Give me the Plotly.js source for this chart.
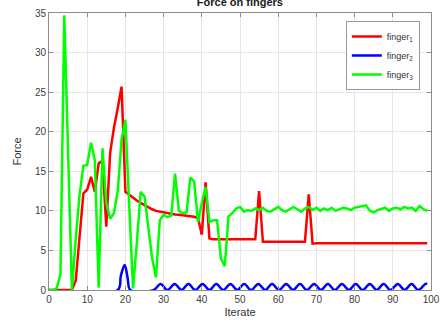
<!DOCTYPE html>
<html>
<head>
<meta charset="utf-8">
<script src="https://cdn.plot.ly/plotly-3.0.1.min.js"></script>
<style>html,body{margin:0;padding:0;background:#fff;}#chart{width:441px;height:323px;}</style>
</head>
<body>
<div id="chart"></div>
<script>
// Iterates 0..99
const iterates = [];
for (let i = 0; i <= 99; i++) iterates.push(i);

const finger1 = [
  0, 0, 0, 0, 0, 0, 0, 1.2, 6.8, 12.2,
  12.7, 14.3, 12.4, 16.0, 16.3, 8.0, 17.3, 20.5, 23.0, 25.7,
  12.4, 12.0, 11.6, 11.3, 11.0, 10.7, 10.5, 10.2, 10.0, 9.9,
  9.8, 9.7, 9.6, 9.55, 9.5, 9.45, 9.4, 9.3, 9.25, 9.1,
  7.0, 13.6, 6.5, 6.4, 6.4, 6.4, 6.4, 6.4, 6.4, 6.4,
  6.4, 6.4, 6.4, 6.4, 6.4, 12.5, 6.1, 6.1, 6.1, 6.1,
  6.1, 6.1, 6.1, 6.1, 6.1, 6.1, 6.1, 6.1, 12.1, 5.85,
  5.9, 5.9, 5.9, 5.9, 5.9, 5.9, 5.9, 5.9, 5.9, 5.9,
  5.9, 5.9, 5.9, 5.9, 5.9, 5.9, 5.9, 5.9, 5.9, 5.9,
  5.9, 5.9, 5.9, 5.9, 5.9, 5.9, 5.9, 5.9, 5.9, 5.9
];

const finger3 = [
  0, 0, 0.2, 2.0, 34.7, 17.5, 0, 6.5, 12.0, 15.7,
  15.8, 18.6, 16.4, 0.3, 17.9, 11.0, 9.0, 9.7, 12.5, 19.0,
  21.5, 10.7, 0.2, 6.0, 12.4, 11.8, 8.0, 4.0, 1.6, 8.8,
  9.5, 9.2, 9.4, 14.7, 10.0, 9.7, 9.8, 14.2, 13.7, 8.6,
  11.0, 13.0, 8.6, 8.8, 8.8, 4.0, 3.0, 9.3, 9.7, 10.3,
  10.5, 9.9, 10.1, 10.0, 10.3, 10.1, 10.4, 10.0, 9.9, 10.2,
  10.5, 10.1, 9.9, 10.2, 10.5, 10.2, 9.9, 10.3, 10.5, 10.1,
  10.4, 10.0, 10.3, 10.1, 10.4, 10.0, 10.2, 10.4, 10.3, 10.1,
  10.4, 10.5, 10.6, 10.7, 10.0, 9.8, 10.1, 10.3, 10.4, 10.0,
  10.3, 10.4, 10.2, 10.5, 10.3, 10.4, 10.0, 10.6, 10.2, 10.0
];

// finger2: flat segments then a small wave (peak / trough points)
const finger2X = [
  0, 18, 18.8, 19.8, 20.6, 21.3, 27.4,
  29.2, 31.0, 32.9, 34.7, 36.5, 38.3, 40.2, 42.0, 43.8, 45.6,
  47.5, 49.3, 51.1, 52.9, 54.8, 56.6, 58.4, 60.2, 62.1, 63.9,
  65.7, 67.5, 69.4, 71.2, 73.0, 74.8, 76.7, 78.5, 80.3, 82.1,
  84.0, 85.8, 87.6, 89.4, 91.3, 93.1, 94.9, 96.7, 98.6, 99
];
const finger2Y = [
  0, 0, 1.8, 3.15, 1.5, 0, 0,
  0.75, 0, 0.75, 0, 0.75, 0, 0.75, 0, 0.75, 0,
  0.75, 0, 0.75, 0, 0.75, 0, 0.75, 0, 0.75, 0,
  0.75, 0, 0.75, 0, 0.75, 0, 0.75, 0, 0.75, 0,
  0.75, 0, 0.75, 0, 0.75, 0, 0.75, 0, 0.8, 0.75
];

const xTicks = [0, 10, 20, 30, 40, 50, 60, 70, 80, 90, 100];
const yTicks = [0, 5, 10, 15, 20, 25, 30, 35];

const traces = [
  {x: iterates, y: finger1, name: 'finger<sub>1</sub>', mode: 'lines',
   line: {color: '#ff0000', width: 2.5}},
  {x: finger2X, y: finger2Y, name: 'finger<sub>2</sub>', mode: 'lines',
   line: {color: '#0000ff', width: 2.5, shape: 'spline', smoothing: 1}},
  {x: iterates, y: finger3, name: 'finger<sub>3</sub>', mode: 'lines',
   line: {color: '#00ff00', width: 2.5}}
];

const axisCommon = {
  showline: true, linecolor: '#8c8c8c', linewidth: 1, mirror: 'ticks',
  ticks: 'inside', ticklen: 4, tickcolor: '#8c8c8c',
  showgrid: true, gridcolor: '#e6e6e6', gridwidth: 1,
  zeroline: false,
  tickfont: {family: 'Liberation Sans, Arial, sans-serif', size: 10, color: '#404040'}
};

const layout = {
  width: 441, height: 323,
  margin: {l: 49, r: 10, t: 13, b: 33},
  paper_bgcolor: '#ffffff', plot_bgcolor: '#ffffff',
  title: {text: '<b>Force on fingers</b>', x: 0.544, xanchor: 'center',
          y: 0.992, yanchor: 'middle', yref: 'container',
          font: {family: 'Liberation Sans, Arial, sans-serif', size: 11, color: '#1a1a1a'}},
  xaxis: Object.assign({}, axisCommon, {
    range: [0, 100], tickvals: xTicks, ticktext: xTicks.map(String),
    title: {text: 'Iterate', standoff: 4,
            font: {family: 'Liberation Sans, Arial, sans-serif', size: 11, color: '#333333'}}
  }),
  yaxis: Object.assign({}, axisCommon, {
    range: [0, 35], tickvals: yTicks, ticktext: yTicks.map(String),
    title: {text: 'Force', standoff: 11,
            font: {family: 'Liberation Sans, Arial, sans-serif', size: 11, color: '#333333'}}
  }),
  showlegend: true,
  legend: {x: 0.777, y: 0.971, xanchor: 'left', yanchor: 'top',
           bgcolor: '#ffffff', bordercolor: '#999999', borderwidth: 1,
           font: {family: 'Liberation Sans, Arial, sans-serif', size: 9, color: '#333333'},
           tracegroupgap: 0}
};

Plotly.newPlot('chart', traces, layout, {displayModeBar: false, staticPlot: true});
</script>
</body>
</html>
